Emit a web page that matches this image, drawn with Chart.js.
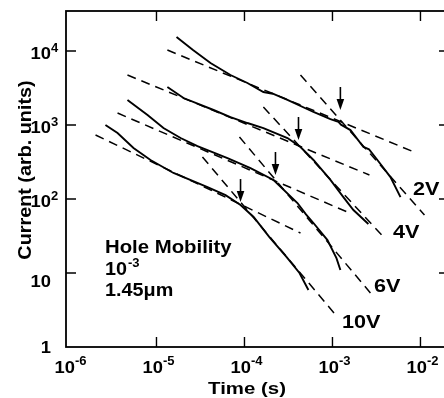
<!DOCTYPE html>
<html>
<head>
<meta charset="utf-8">
<script src="https://cdn.jsdelivr.net/npm/chart.js@4.4.1/dist/chart.umd.min.js"></script>
<style>
html, body { margin: 0; padding: 0; background: #fff; overflow: hidden; }
</style>
</head>
<body>
<canvas id="c1" width="452" height="398"></canvas>
<script>
// transient currents, time in s, current in arb. units
var t2V = [1.69e-5, 2.6e-5, 4.11e-5, 6.93e-5, 1.08e-4, 1.64e-4, 2.1e-4, 3.08e-4, 6.08e-4, 9.48e-4, 1.17e-3, 1.25e-3, 1.60e-3, 2.25e-3, 2.6e-3, 3.24e-3, 4.56e-3, 5.93e-3];
var i2V = [15450, 10300, 6890, 4740, 3700, 2790, 2650, 2180, 1500, 1205, 1100, 1010, 855, 505, 470, 337, 198, 106];

var t4V = [1.33e-5, 2.03e-5, 4.45e-5, 6.93e-5, 1.08e-4, 1.64e-4, 3.08e-4, 4.33e-4, 6.08e-4, 9.48e-4, 1.33e-3, 1.73e-3, 2.56e-3];
var i4V = [3266, 2317, 1596, 1282, 1064, 910, 667, 505, 337, 181, 106, 71, 46];

var t6V = [4.68e-6, 7.91e-6, 1.20e-5, 1.88e-5, 2.92e-5, 6.41e-5, 1.17e-4, 2.14e-4, 4.00e-4, 5.0e-4, 6.08e-4, 8.77e-4, 1.11e-3, 1.23e-3];
var i6V = [2178, 1365, 910, 667, 520, 358, 262, 181, 88.3, 62, 47.4, 27.9, 15.9, 11.0];

var t10V = [2.63e-6, 3.61e-6, 5.48e-6, 8.55e-6, 1.56e-5, 3.80e-5, 6.09e-5, 9.02e-5, 1.27e-4, 1.92e-4, 3.00e-4, 4.22e-4, 5.33e-4];
var i10V = [1000, 780, 489, 337, 225, 145, 113, 83, 57.1, 30.6, 16.5, 10.0, 5.9];

// straight-line fits (two end points each), shallow and steep part
var fit2Vt = [[1.33e-5, 9.0e-3], [4.33e-4, 1.11e-2]];
var fit2Vi = [[10320, 419], [4740, 60.8]];
var fit4Vt = [[4.68e-6, 2.63e-3], [1.64e-4, 3.90e-3]];
var fit4Vi = [[4740, 211], [1750, 29.7]];
var fit6Vt = [[3.61e-6, 1.48e-3], [8.77e-5, 2.70e-3]];
var fit6Vi = [[1452, 66.7], [689, 5.37]];
var fit10Vt = [[2.03e-6, 4.33e-4], [3.33e-5, 1.14e-3]];
var fit10Vi = [[733, 34.7], [370, 2.54]];

// transit time arrows
var arrowT = [1.23e-3, 4.11e-4, 2.25e-4, 9.02e-5];
var arrowI = [1595, 627, 211, 91];

var xTicks = [1e-6, 1e-5, 1e-4, 1e-3, 1e-2];
var xTickExp = ['-6', '-5', '-4', '-3', '-2'];
var yTicks = [1, 10, 100, 1000, 10000];
var yTickBase = ['1', '10', '10', '10', '10'];
var yTickExp = ['', '', '2', '3', '4'];

var voltLabels = ['2V', '4V', '6V', '10V'];
var noteLines = ['Hole Mobility', '10', '1.45\u03bcm'];

var FONT = '"Liberation Sans", Arial, Helvetica, sans-serif';

function pts(ts, is) {
    var out = [];
    for (var k = 0; k < ts.length; k++) out.push({x: ts[k], y: is[k]});
    return out;
}

function curve(ts, is) {
    return { data: pts(ts, is), borderColor: '#000', borderWidth: 1.9, showLine: true, pointRadius: 0, fill: false };
}

function dashed(ts, is) {
    return { data: pts(ts, is), borderColor: '#000', borderWidth: 1.5, borderDash: [9, 6], showLine: true, pointRadius: 0, fill: false };
}

function txt(ctx, s, x, y, size, align, sx) {
    ctx.save();
    ctx.font = 'bold ' + size + 'px ' + FONT;
    ctx.translate(x, y);
    ctx.scale(sx || 1, 1);
    ctx.textAlign = align || 'left';
    ctx.textBaseline = 'alphabetic';
    ctx.fillText(s, 0, 0);
    ctx.restore();
}

function width(ctx, s, size) {
    ctx.font = 'bold ' + size + 'px ' + FONT;
    return ctx.measureText(s).width;
}

var frame = {
    id: 'frame',
    afterDraw: function(chart) {
        var ctx = chart.ctx, a = chart.chartArea;
        var xs = chart.scales.x, ys = chart.scales.y;
        ctx.save();
        ctx.fillStyle = '#000';
        ctx.strokeStyle = '#000';
        ctx.lineWidth = 1.8;
        ctx.strokeRect(a.left, a.top, a.right - a.left, a.bottom - a.top);

        // inward ticks on all four sides
        ctx.lineWidth = 1.4;
        ctx.beginPath();
        xTicks.forEach(function(v) {
            var px = xs.getPixelForValue(v);
            if (px - a.left < 4 || a.right - px < 4) return;
            ctx.moveTo(px, a.bottom); ctx.lineTo(px, a.bottom - 10);
            ctx.moveTo(px, a.top); ctx.lineTo(px, a.top + 10);
        });
        yTicks.forEach(function(v) {
            var py = ys.getPixelForValue(v);
            if (a.bottom - py < 4 || py - a.top < 4) return;
            ctx.moveTo(a.left, py); ctx.lineTo(a.left + 10, py);
            ctx.moveTo(a.right, py); ctx.lineTo(a.right - 10, py);
        });
        ctx.stroke();

        // x tick labels
        xTicks.forEach(function(v, k) {
            var px = xs.getPixelForValue(v);
            var wb = width(ctx, '10', 17) * 1.08, we = width(ctx, xTickExp[k], 13);
            var x0 = px + 2 - (wb + we) / 2;
            txt(ctx, '10', x0, 373, 17, 'left', 1.08);
            txt(ctx, xTickExp[k], x0 + wb, 365, 13);
        });

        // y tick labels
        yTicks.forEach(function(v, k) {
            var py = ys.getPixelForValue(v);
            if (yTickExp[k] === '') {
                var off = yTickBase[k] === '10' ? 14 : 6;
                txt(ctx, yTickBase[k], 51, py + off, 17, 'right', 1.08);
            } else {
                txt(ctx, yTickBase[k], 51, py + 7.5, 17, 'right', 1.08);
                txt(ctx, yTickExp[k], 51, py + 1, 13, 'left');
            }
        });

        // axis titles
        txt(ctx, 'Time (s)', 247, 394, 17, 'center', 1.2);
        ctx.save();
        ctx.translate(31, 170);
        ctx.rotate(-Math.PI / 2);
        txt(ctx, 'Current (arb. units)', 0, 0, 18, 'center', 1.1);
        ctx.restore();

        // voltage labels
        txt(ctx, voltLabels[0], 413, 195, 18, 'left', 1.2);
        txt(ctx, voltLabels[1], 393, 238, 18, 'left', 1.2);
        txt(ctx, voltLabels[2], 374, 292, 18, 'left', 1.2);
        txt(ctx, voltLabels[3], 342, 328, 18, 'left', 1.2);

        // note
        txt(ctx, noteLines[0], 105, 253, 18, 'left', 1.13);
        txt(ctx, noteLines[1], 105, 275, 18, 'left', 1.1);
        txt(ctx, '-3', 105 + width(ctx, '10', 18) * 1.1 + 1, 267, 13, 'left');
        txt(ctx, noteLines[2], 105, 296, 18, 'left', 1.1);

        // arrows pointing at the kinks
        ctx.lineWidth = 1.6;
        arrowT.forEach(function(t, k) {
            var px = xs.getPixelForValue(t), py = ys.getPixelForValue(arrowI[k]);
            ctx.beginPath();
            ctx.moveTo(px, py - 23);
            ctx.lineTo(px, py - 6);
            ctx.stroke();
            ctx.beginPath();
            ctx.moveTo(px, py);
            ctx.lineTo(px - 3.8, py - 11);
            ctx.lineTo(px + 3.8, py - 11);
            ctx.closePath();
            ctx.fill();
        });
        ctx.restore();
    }
};

var ctx = document.getElementById('c1');
var myChart = new Chart(ctx, {
    type: 'scatter',
    data: {
        datasets: [
            curve(t2V, i2V), curve(t4V, i4V), curve(t6V, i6V), curve(t10V, i10V),
            dashed(fit2Vt[0], fit2Vi[0]), dashed(fit2Vt[1], fit2Vi[1]),
            dashed(fit4Vt[0], fit4Vi[0]), dashed(fit4Vt[1], fit4Vi[1]),
            dashed(fit6Vt[0], fit6Vi[0]), dashed(fit6Vt[1], fit6Vi[1]),
            dashed(fit10Vt[0], fit10Vi[0]), dashed(fit10Vt[1], fit10Vi[1])
        ]
    },
    options: {
        responsive: false,
        devicePixelRatio: 1,
        animation: false,
        layout: { padding: { left: 66, top: 11, right: 3, bottom: 51 } },
        plugins: { legend: { display: false }, tooltip: { enabled: false } },
        scales: {
            x: { type: 'logarithmic', display: false, min: 9.37e-7, max: 0.0211 },
            y: { type: 'logarithmic', display: false, min: 1, max: 34750 }
        }
    },
    plugins: [frame]
});
</script>
</body>
</html>
